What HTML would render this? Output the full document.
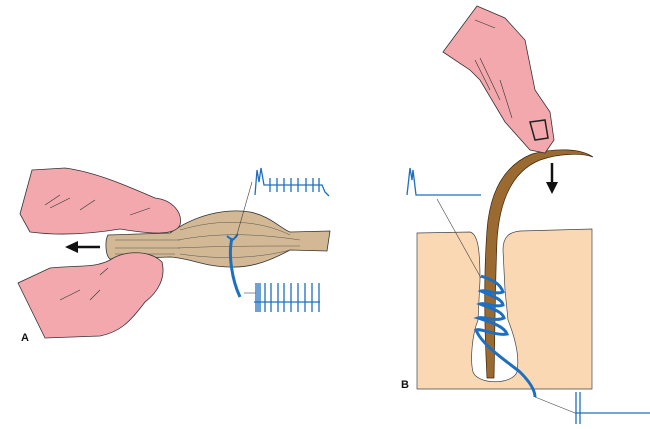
<!DOCTYPE html>
<html><head><style>html,body{margin:0;padding:0;background:#fff;width:650px;height:429px;overflow:hidden}</style></head>
<body>
<svg width="650" height="429" viewBox="0 0 650 429" xmlns="http://www.w3.org/2000/svg">
<!-- Part A -->
<path d="M108,235 L170,233 C195,215 225,208 250,212 C270,216 280,228 290,232 L330,231 L327,251 L290,250 C275,258 255,268 230,267 C205,267 190,258 170,257 L110,259 C105,255 105,240 108,235 Z" fill="#d2b894" stroke="#333" stroke-width="0.8"/>
<g stroke="#555" stroke-width="0.5" fill="none">
<path d="M180,230 C220,218 260,220 290,235"/><path d="M178,240 C220,232 260,234 300,240"/><path d="M178,248 C220,246 260,246 300,246"/><path d="M180,254 C220,260 260,258 290,250"/><path d="M115,240 L180,240"/><path d="M115,248 L180,248"/><path d="M115,254 L175,254"/>
</g>
<path d="M32,170 L65,168 C95,172 125,185 155,198 C172,200 183,212 180,225 C175,236 150,234 120,229 C90,234 60,236 30,232 L20,214 Z" fill="#f2a8ad" stroke="#333" stroke-width="0.8"/>
<path d="M50,268 C80,265 95,268 110,260 C125,250 150,250 162,262 C166,278 158,292 145,302 C130,322 120,332 100,336 L45,338 L18,283 Z" fill="#f2a8ad" stroke="#333" stroke-width="0.8"/>
<g stroke="#333" stroke-width="0.6"><path d="M45,205 L60,195 M50,208 L70,198 M80,210 L95,200 M130,215 L150,208 M60,300 L80,290 M90,300 L100,290 M100,275 L108,268"/></g>
<line x1="100" y1="247" x2="75" y2="247" stroke="#111" stroke-width="2.5"/>
<polygon points="65,247 78,241 78,253" fill="#111"/>
<path d="M232,238 C228,255 232,280 240,297" stroke="#1f6fc0" stroke-width="3" fill="none"/>
<path d="M232,240 L227,236 M233,240 L238,234" stroke="#1f6fc0" stroke-width="2"/>
<line x1="236" y1="238" x2="252" y2="182" stroke="#444" stroke-width="0.6"/>
<line x1="244" y1="293" x2="256" y2="293" stroke="#444" stroke-width="0.6"/>
<g stroke="#1f6fc0" stroke-width="1.3" fill="none">
<path d="M255,195 L257,170 L259,182 L261,168 L264,185 L322,185 L325,192 L329,196"/>
<path d="M270,178 V192 M277,178 V192 M284,178 V192 M291,178 V192 M298,178 V192 M306,178 V192 M313,178 V192 M319,178 V192"/>
<path d="M254,302 L320,302 M256,283 V312 M258,283 V312 M260,283 V312 M265,283 V312 M271,283 V312 M278,283 V312 M284,283 V312 M291,283 V312 M298,283 V312 M305,283 V312 M312,283 V312 M319,283 V312"/>
</g>
<text x="21" y="341" font-family="Liberation Sans, sans-serif" font-weight="bold" font-size="11" fill="#111">A</text>

<!-- Part B -->
<path d="M417,233 L470,232 C478,234 480,250 480,280 L478,320 C472,335 470,360 473,372 C478,385 512,385 517,372 C520,355 514,335 508,320 L505,290 L503,250 C503,236 510,232 520,231 L592,229 L592,389 L417,389 Z" fill="#fbd8b4" stroke="#444" stroke-width="0.7"/>
<path d="M487,378 C484,320 484,270 487,230 C490,190 505,165 532,154 C555,148 580,148 593,157 C582,153 560,153 540,160 C515,170 500,195 497,240 C495,290 495,330 494,378 Z" fill="#9a6a30" stroke="#3a2510" stroke-width="0.7"/>
<g stroke="#1f6fc0" stroke-width="3" fill="none">
<path d="M481,276 C492,280 500,283 503,292 C495,295 485,289 481,291 C492,296 502,299 503,305 C495,308 485,302 480,304 C492,309 502,311 504,318 C495,322 484,316 478,318 C490,322 504,326 507,334 C495,336 482,328 476,330 C482,345 505,360 520,372 C530,382 535,390 535,397"/>
</g>
<line x1="437" y1="199" x2="481" y2="278" stroke="#444" stroke-width="0.6"/>
<line x1="535" y1="397" x2="575" y2="413" stroke="#444" stroke-width="0.6"/>
<g stroke="#1f6fc0" stroke-width="1.3" fill="none">
<path d="M407,195 L410,168 L412,180 L413,170 L416,195 L481,195"/>
<path d="M576,392 V424 M580,392 V424 M575,413 L650,413"/>
</g>
<path d="M443,52 L477,6 L505,18 L525,40 L535,90 L550,112 L554,140 L545,153 L530,150 L505,122 L480,80 L470,70 Z" fill="#f2a8ad" stroke="#333" stroke-width="0.8"/>
<path d="M530,122 L545,120 L548,138 L535,140 Z" fill="#f2a8ad" stroke="#222" stroke-width="1.5"/>
<g stroke="#333" stroke-width="0.6"><path d="M475,60 L490,90 M480,58 L500,100 M500,80 L512,118 M475,20 L495,28"/></g>
<line x1="552" y1="163" x2="552" y2="185" stroke="#111" stroke-width="2.5"/>
<polygon points="552,194 546,182 558,182" fill="#111"/>
<text x="401" y="388" font-family="Liberation Sans, sans-serif" font-weight="bold" font-size="11" fill="#111">B</text>
</svg>
</body></html>
